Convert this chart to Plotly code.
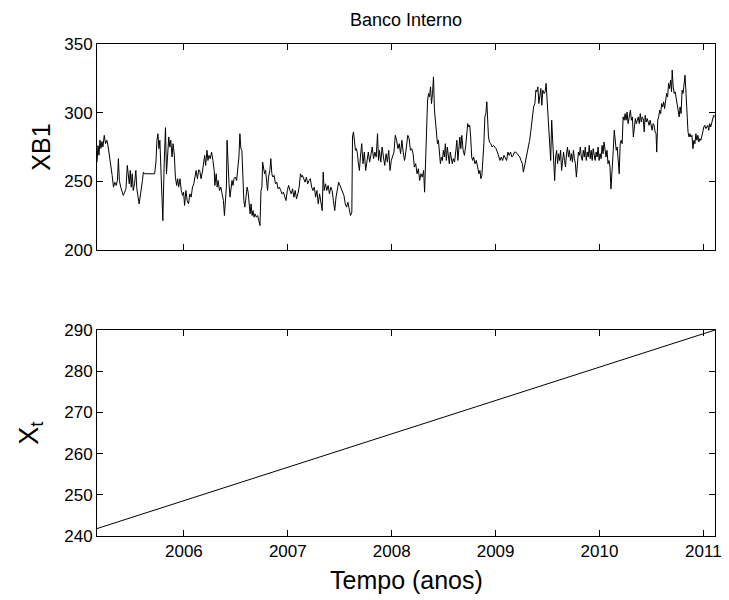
import plotly.graph_objects as go

# ---------------- data ----------------
T0 = 2005.1635          # time of observation 0 (years)
OBS_PER_YEAR = 315.56   # observations per year

seg_2005 = [(0,264),(3,276),(6,269),(9,280),(12,274),(15,279),(18,275),(22,283.5),(26,277.4),(30,279.9),(34,275),(38,268.9),(42,260.4),(46,254.3),(50,245.8),(54,249.4),(58,247),(62,250.6),(65,266.5),(68,250.6),(72,245.8),(76,243.3),(80,239.7),(84,242.1),(88,244.6),(92,261.6),(95,251.9),(98,248.2),(101,257.9),(104,245.8),(107,255.5),(110,243.3),(114,248.2),(118,257.9),(121,244.6),(124,240.9),(128,233.6),(131,238.5),(135,248.2),(138,250.6),(141,256.7),(145,255.5),(175,255.5),(179,264),(182,279.9),(185,284.7),(188,273.8),(191,279.9),(195,253.1),(200,221.4),(204,262.8),(208,289.1),(211,255.5),(214,267.7),(218,282.3),(221,275),(224,279.9),(228,267.7),(231,277.4),(235,268.9),(238,253.1),(242,247),(245,251.9),(248,245.8),(252,251.9),(256,243.3),(260,239.7),(263,242.1),(266,232.4),(270,243.3),(274,236),(278,233.6),(282,240.9),(286,238.5),(290,245.8),(294,248.2),(298,253.1),(301,257.9),(305,251.9),(309,258.4)]

seg_2006 = [(312,257.9),(316,251.9),(320,256.7),(324,264),(327,268.9),(330,261.6),(334,272.6),(337,265.2),(340,268.9),(344,266.5),(348,271.3),(352,265.2),(356,257.9),(358,247),(362,255.5),(365,245.8),(368,250.6),(372,243.3),(376,245.8),(380,240.9),(384,236),(387,225.1),(390,238.5),(393,245.8),(395,279.9),(398,255.5),(401,248.2),(404,238.5),(407,245.8),(410,250.6),(413,247),(416,251.9),(420,253.1),(424,250.6),(428,260.4),(431,267.7),(434,284.7),(437,273.8),(440,272.6),(443,243.3),(446,236),(449,231.2),(452,238.5),(456,245.8),(459,242.1),(462,236),(465,226.3),(468,233.6),(471,225.1),(474,228.7),(477,223.9),(480,226.3),(484,223.9),(488,225.1),(492,221.4),(495,217.8),(498,243.3),(501,245.8),(503,264),(506,260.4),(509,255.5),(512,257.9),(515,249.4),(518,243.3),(521,253.1),(525,257.9),(528,266.5),(531,255.5),(534,253.1),(538,254.3),(542,248.2),(546,249.4),(550,244.6),(554,245.8),(558,243.3),(562,240.9),(566,242.1),(570,239.7),(574,236),(578,243.3),(582,247),(586,243.3),(590,240.9),(594,244.6),(598,238.5),(602,243.3),(606,237.2),(610,240.9),(614,245.8),(618,255.5),(622,253.1)]

seg_2007 = [(624,254.3),(628,251.9),(632,249.4),(636,253.1),(640,248.2),(644,250.6),(648,251.9),(652,245.8),(656,243.3),(660,245.8),(664,238.5),(668,243.3),(672,233.6),(676,240.9),(680,232.4),(684,228.7),(687,256.7),(690,243.3),(694,248.2),(698,243.3),(702,247),(706,240.9),(710,245.8),(714,243.3),(718,236),(722,228.7),(726,238.5),(730,243.3),(734,249.4),(738,247),(742,244.6),(746,242.1),(750,239.7),(754,233.6),(758,231.2),(762,234.8),(766,228.7),(770,225.1),(774,227.5),(776,282.3),(779,286),(782,279.9),(785,272.6),(788,273.8),(791,270.1),(794,262.8),(797,257.9),(800,267.7),(804,277.4),(808,262.8),(812,271.3),(816,257.9),(820,265.2),(824,271.3),(828,264),(832,268.9),(836,275),(840,266.5),(844,271.3),(848,267.7),(852,284.7),(855,265.2),(858,272.6),(862,264),(866,275),(870,267.7),(874,261.6),(878,270.1),(882,264),(886,272.6),(890,257.9),(894,265.2),(898,267.7),(902,271.3),(906,283.5),(910,279.9),(914,273.8),(918,277.4),(922,270.1),(926,279.9),(930,271.3),(934,265.2)]

seg_2008 = [(936,267.7),(940,275),(944,283.5),(948,281.1),(952,272.6),(956,273.8),(960,270.1),(964,260.4),(968,262.8),(972,255.5),(976,259.2),(980,250.6),(984,255.5),(988,253.1),(992,257.9),(995,242.1),(998,265.2),(1001,272.6),(1004,309.1),(1007,313.9),(1010,311.5),(1013,318.8),(1016,306.6),(1019,313.9),(1022,326.1),(1025,301.8),(1028,292),(1031,282.3),(1034,277.4),(1037,279.9),(1040,272.6),(1043,262.8),(1046,267.7),(1049,265.2),(1052,272.6),(1055,267.7),(1058,277.4),(1061,265.2),(1064,275),(1067,267.7),(1070,262.8),(1073,271.3),(1076,265.2),(1079,262.8),(1082,266.5),(1086,264),(1090,272.6),(1093,279.9),(1096,265.2),(1099,277.4),(1102,282.3),(1105,273.8),(1108,283.5),(1112,272.6),(1116,268.9),(1120,276.2),(1123,287.2),(1126,292),(1129,289.6),(1132,290.8),(1135,282.3),(1138,267.7),(1141,265.2),(1144,267.7),(1148,262.8),(1152,265.2),(1156,260.4),(1160,255.5),(1163,257.9),(1166,251.9),(1169,254.3),(1172,265.2),(1175,277.4),(1178,296.9),(1181,299.3),(1184,307.9),(1186,294.5),(1189,282.3),(1192,278.6),(1196,277.4),(1200,275),(1204,276.2),(1208,275),(1212,273.8),(1216,271.3),(1220,268.9),(1224,265.2),(1228,267.7),(1232,265.2),(1236,268.9),(1240,266.5),(1244,265.2)]

seg_2009 = [(1248,271.3),(1252,268.9),(1256,271.3),(1260,267.7),(1264,268.9),(1268,271.3),(1272,271.3),(1276,270.1),(1280,268.9),(1284,267.7),(1288,265.2),(1292,262.8),(1295,256.7),(1298,260.4),(1302,265.2),(1306,270.1),(1310,273.8),(1314,279.9),(1318,287.2),(1322,296.9),(1326,304.2),(1330,306.6),(1333,316.4),(1336,315.2),(1339,318.8),(1342,306.6),(1345,313.9),(1348,317.6),(1351,305.4),(1354,316.4),(1358,313.9),(1361,315.2),(1364,321.3),(1367,309.1),(1370,294.5),(1373,287.2),(1376,275),(1378,265.2),(1381,294.5),(1384,279.9),(1387,257.9),(1390,250.6),(1393,267.7),(1396,272.6),(1399,262.8),(1402,270.1),(1405,265.2),(1408,272.6),(1411,257.9),(1414,267.7),(1417,271.3),(1420,265.2),(1423,260.4),(1426,270.1),(1429,275),(1432,267.7),(1435,272.6),(1438,265.2),(1441,270.1),(1444,264),(1447,272.6),(1450,266.5),(1453,262.8),(1456,253.1),(1459,265.2),(1462,271.3),(1465,268.9),(1468,275),(1471,267.7),(1474,265.2),(1477,272.6),(1480,267.7),(1483,275),(1486,265.2),(1489,271.3),(1492,267.7),(1495,276.2),(1498,266.5),(1501,272.6),(1504,265.2),(1507,273.8),(1510,268.9),(1513,265.2),(1516,271.3),(1519,267.7),(1522,275),(1525,265.2),(1528,270.1),(1531,266.5),(1534,276.2),(1537,270.1),(1540,278.6),(1543,270.1),(1546,267.7),(1549,272.6),(1552,262.8),(1555,265.2),(1558,260.4)]

seg_2010 = [(1561,244.5),(1565,267.7),(1568,272.6),(1571,287.2),(1574,277.4),(1577,272.6),(1580,275),(1583,267.7),(1586,255.5),(1589,277.4),(1592,279.9),(1595,277.4),(1598,296.9),(1601,294.5),(1604,299.3),(1607,294.5),(1610,300.5),(1613,292),(1616,295.7),(1620,301.8),(1623,294.5),(1626,296.9),(1629,282.3),(1632,292),(1635,295.7),(1638,292),(1641,294.5),(1644,296.9),(1647,292),(1650,299.3),(1653,293.2),(1656,296.9),(1659,295.7),(1662,286),(1665,298.1),(1668,293.2),(1671,295.7),(1674,292),(1677,290.8),(1680,294.5),(1683,289.6),(1686,287.2),(1689,292),(1692,290.8),(1695,286),(1698,284.7),(1700,271.3),(1703,294.5),(1706,296.9),(1709,301.8),(1712,299.3),(1715,306.6),(1718,304.2),(1721,307.9),(1724,303),(1727,309.1),(1730,314),(1733,311.5),(1736,321.3),(1739,317.6),(1742,323.7),(1745,315.2),(1747,331),(1750,318.8),(1753,314),(1756,315.2),(1759,311.5),(1762,306.6),(1765,301.8),(1768,296.9),(1771,304.2),(1774,299.3),(1777,316.4),(1780,314),(1783,320),(1786,327.3),(1789,314),(1792,299.3),(1795,286),(1798,282.3),(1801,284.7),(1804,282.3),(1807,283.5),(1810,273.8),(1813,279.9),(1816,277.4),(1819,284.7),(1822,279.9),(1825,283.5),(1828,278.6),(1831,281.1),(1834,279.9),(1837,282.3),(1840,286),(1843,289.6),(1846,290.8),(1849,288.4),(1852,289.6),(1855,290.8),(1858,287.2),(1861,292),(1864,289.6),(1867,293.2),(1870,294.5),(1873,298.1),(1877,297)]

# Trend X_t: first and last observation
xt_obs = [0, 1877]
xt_values = [241.8, 290.0]

year_ticks = [2006, 2007, 2008, 2009, 2010, 2011]
xb1_ticks = [200, 250, 300, 350]
xt_ticks = [240, 250, 260, 270, 280, 290]

# ---------------- build ----------------
segments = [seg_2005, seg_2006, seg_2007, seg_2008, seg_2009, seg_2010]
obs = [p[0] for s in segments for p in s]
xb1 = [p[1] for s in segments for p in s]
t_xb1 = [T0 + o / OBS_PER_YEAR for o in obs]
t_xt = [T0 + o / OBS_PER_YEAR for o in xt_obs]
xrange = [T0, T0 + 1877 / OBS_PER_YEAR]

FONT = "Liberation Sans, Arial, sans-serif"

fig = go.Figure()
fig.add_trace(go.Scatter(x=t_xb1, y=xb1, mode="lines",
                         line=dict(color="black", width=1), xaxis="x", yaxis="y"))
fig.add_trace(go.Scatter(x=t_xt, y=xt_values, mode="lines",
                         line=dict(color="black", width=1), xaxis="x2", yaxis="y2"))

axis_common = dict(showline=True, linecolor="black", linewidth=1, mirror="ticks",
                   ticks="inside", ticklen=6, tickcolor="black", tickwidth=1,
                   showgrid=False, zeroline=False,
                   tickfont=dict(family=FONT, size=17, color="black"))

H = 492.0  # plot area height in px (600 - 44 - 64)
fig.update_layout(
    width=729, height=600,
    margin=dict(l=97, r=7, t=44, b=64),
    paper_bgcolor="white", plot_bgcolor="white",
    showlegend=False,
    xaxis=dict(domain=[0, 1], range=xrange, tickvals=year_ticks, showticklabels=False,
               anchor="y", **axis_common),
    yaxis=dict(domain=[1 - 206 / H, 1], range=[200, 350], tickvals=xb1_ticks,
               anchor="x", **axis_common),
    xaxis2=dict(domain=[0, 1], range=xrange, tickvals=year_ticks,
                ticktext=[str(y) for y in year_ticks], anchor="y2", **axis_common),
    yaxis2=dict(domain=[0, 206 / H], range=[240, 290], tickvals=xt_ticks,
                anchor="x2", **axis_common),
    annotations=[
        dict(text="Banco Interno", xref="paper", yref="paper", x=0.5, y=(536 - 20) / H,
             xanchor="center", yanchor="middle", showarrow=False,
             font=dict(family=FONT, size=18, color="black")),
        dict(text="Tempo (anos)", xref="paper", yref="paper", x=0.5, y=(536 - 580) / H,
             xanchor="center", yanchor="middle", showarrow=False,
             font=dict(family=FONT, size=25, color="black")),
        dict(text="XB1", xref="paper", yref="paper", x=(40 - 97) / 625, y=(536 - 147) / H,
             xanchor="center", yanchor="middle", showarrow=False, textangle=-90,
             font=dict(family=FONT, size=25, color="black")),
        dict(text="X<sub>t</sub>", xref="paper", yref="paper", x=(30 - 97) / 625,
             y=(536 - 433) / H, xanchor="center", yanchor="middle", showarrow=False,
             textangle=-90, font=dict(family=FONT, size=27, color="black")),
    ],
)

fig.write_html("out.html")
